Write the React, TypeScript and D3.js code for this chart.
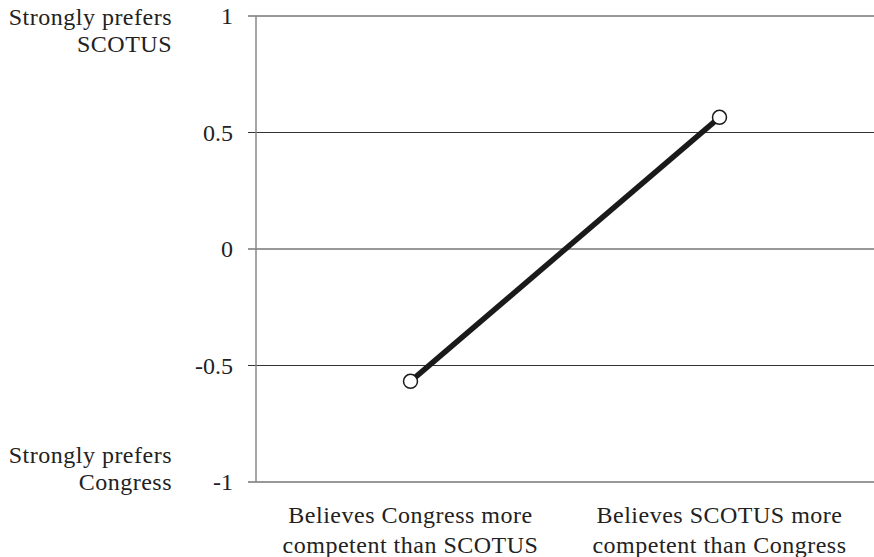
import React from "react";
import * as d3 from "d3";

const categories = [
  ["Believes Congress more", "competent than SCOTUS"],
  ["Believes SCOTUS more", "competent than Congress"],
];
const categoryKeys = ["congress", "scotus"];
const values = [-0.568, 0.565];
const yTicks = [1, 0.5, 0, -0.5, -1];
const yTickLabels = ["1", "0.5", "0", "-0.5", "-1"];
const topLabel = ["Strongly prefers", "SCOTUS"];
const bottomLabel = ["Strongly prefers", "Congress"];

const W = 874;
const H = 557;
const FONT = '"Times New Roman"';

export default function App() {
  const x = d3.scalePoint<string>().domain(categoryKeys).range([256, 874]).padding(0.5);
  const y = d3.scaleLinear().domain([-1, 1]).range([482, 16]);
  const line = d3
    .line<number>()
    .x((_, i) => x(categoryKeys[i]) as number)
    .y((d) => y(d));

  const ts = { fontFamily: FONT, fontSize: "24px", letterSpacing: "0.5px", fill: "#222" };
  const tsTick = { fontFamily: FONT, fontSize: "24px", fill: "#222" };

  return (
    <svg
      width={W}
      height={H}
      style={{ position: "absolute", left: 0, top: 0, background: "#fff" }}
    >
      {yTicks.map((t, i) => (
        <g key={i}>
          <line x1={248} x2={874} y1={y(t)} y2={y(t)} stroke="#333" strokeWidth={1} />
          <text x={233} y={y(t) + 8} textAnchor="end" style={tsTick}>
            {yTickLabels[i]}
          </text>
        </g>
      ))}
      <line x1={256} x2={256} y1={y(1)} y2={y(-1)} stroke="#888" strokeWidth={1.5} />

      <text x={172} y={y(1) + 9} textAnchor="end" style={ts}>
        {topLabel[0]}
      </text>
      <text x={172} y={y(1) + 36} textAnchor="end" style={ts}>
        {topLabel[1]}
      </text>
      <text x={172} y={y(-1) - 19} textAnchor="end" style={ts}>
        {bottomLabel[0]}
      </text>
      <text x={172} y={y(-1) + 8} textAnchor="end" style={ts}>
        {bottomLabel[1]}
      </text>

      {categories.map((lines, i) => (
        <g key={i}>
          {lines.map((l, j) => (
            <text
              key={j}
              x={x(categoryKeys[i]) as number}
              y={523 + j * 30}
              textAnchor="middle"
              style={ts}
            >
              {l}
            </text>
          ))}
        </g>
      ))}

      <path d={line(values) || ""} fill="none" stroke="#1a1a1a" strokeWidth={5.5} />
      {values.map((v, i) => (
        <circle
          key={i}
          cx={x(categoryKeys[i]) as number}
          cy={y(v)}
          r={7}
          fill="#fff"
          stroke="#1a1a1a"
          strokeWidth={1.5}
        />
      ))}
    </svg>
  );
}
